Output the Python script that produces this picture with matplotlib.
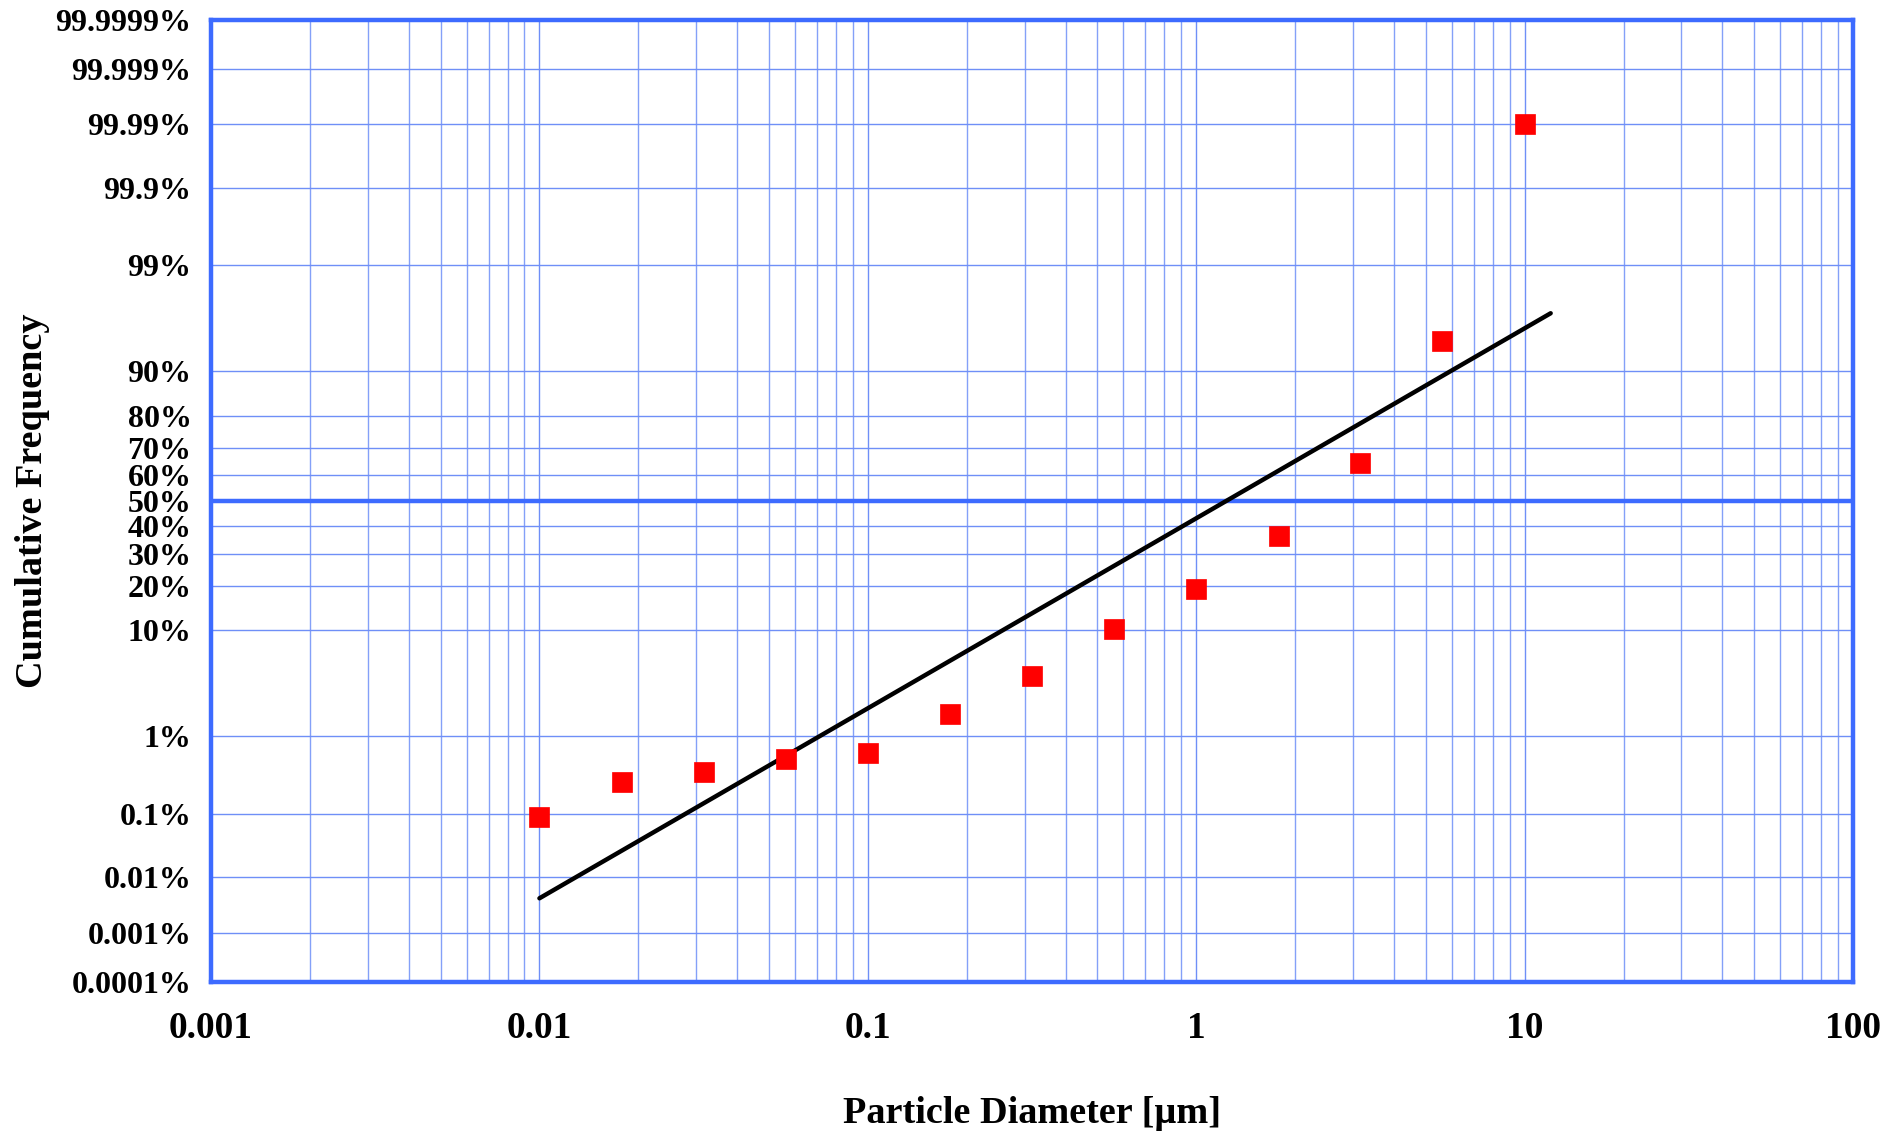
import numpy as np
import matplotlib
matplotlib.use("Agg")
import matplotlib.pyplot as plt
from matplotlib.ticker import LogLocator, NullLocator, NullFormatter
from statistics import NormalDist

# ---- data ----
diameter_um = [0.01, 0.0178, 0.0316, 0.0562, 0.1, 0.178, 0.316, 0.562, 1.0, 1.78, 3.16, 5.62, 10.0]
cum_freq_pct = [0.09, 0.27, 0.365, 0.54, 0.64, 1.75, 4.2, 10.2, 19.1, 36.4, 64.5, 94.3, 99.99]

fit_diameter_um = [0.01, 12.0]
fit_cum_pct = [0.0043, 96.8]

y_ticks_pct = [0.0001, 0.001, 0.01, 0.1, 1, 10, 20, 30, 40, 50, 60, 70, 80, 90,
               99, 99.9, 99.99, 99.999, 99.9999]
y_tick_labels = ["0.0001%", "0.001%", "0.01%", "0.1%", "1%", "10%", "20%", "30%",
                 "40%", "50%", "60%", "70%", "80%", "90%", "99%", "99.9%",
                 "99.99%", "99.999%", "99.9999%"]
x_ticks = [0.001, 0.01, 0.1, 1, 10, 100]
x_tick_labels = ["0.001", "0.01", "0.1", "1", "10", "100"]

# ---- normal probability scale ----
_nd = NormalDist()
_ppf = np.vectorize(lambda q: _nd.inv_cdf(q) if 0 < q < 1 else np.nan, otypes=[float])
_cdf = np.vectorize(lambda z: _nd.cdf(z), otypes=[float])


def prob_forward(p):
    q = np.clip(np.asarray(p, dtype=float) / 100.0, 1e-12, 1 - 1e-12)
    return _ppf(q)


def prob_inverse(z):
    return _cdf(np.asarray(z, dtype=float)) * 100.0


FRAME = "#3d6bff"
GRID = "#6f8ff7"

plt.rcParams["font.family"] = ["Liberation Serif", "DejaVu Serif"]
plt.rcParams["font.weight"] = "bold"

fig = plt.figure(figsize=(19.01, 11.36), dpi=100)
ax = fig.add_axes([0.111, 0.1356, 0.9748 - 0.111, 0.9828 - 0.1356])

ax.set_xscale("log")
ax.set_yscale("function", functions=(prob_forward, prob_inverse))
ax.set_xlim(0.001, 100)
ax.set_ylim(0.0001, 99.9999)

# grid
ax.xaxis.set_major_locator(LogLocator(base=10, numticks=20))
ax.xaxis.set_minor_locator(LogLocator(base=10, subs=np.arange(2, 10), numticks=100))
ax.xaxis.set_minor_formatter(NullFormatter())
ax.set_xticks(x_ticks, x_tick_labels)
ax.set_yticks(y_ticks_pct, y_tick_labels)
ax.yaxis.set_minor_locator(NullLocator())
ax.grid(True, which="major", axis="both", color=GRID, lw=1.0)
ax.grid(True, which="minor", axis="x", color=GRID, lw=1.0, alpha=0.85)
ax.set_axisbelow(True)

# 50% reference line
ax.axhline(50, color=FRAME, lw=3.2, zorder=1.5)

# fit line and data
ax.plot(fit_diameter_um, fit_cum_pct, color="black", lw=3.2, solid_capstyle="round", zorder=3)
ax.plot(diameter_um, cum_freq_pct, linestyle="none", marker="s", markersize=14.5,
        markerfacecolor="#ff0000", markeredgecolor="#ff0000", markeredgewidth=0.5, zorder=4)

# frame
for s in ax.spines.values():
    s.set_color(FRAME)
    s.set_linewidth(3.2)

ax.tick_params(axis="both", which="both", length=0)
ax.tick_params(axis="x", pad=21, labelsize=27)
ax.tick_params(axis="y", pad=14, labelsize=23)
for lab in ax.get_xticklabels() + ax.get_yticklabels():
    lab.set_fontweight("bold")

ax.set_xlabel("Particle Diameter [µm]", fontsize=27.5, fontweight="bold", labelpad=36)
ax.set_ylabel("Cumulative Frequency", fontsize=27.5, fontweight="bold", labelpad=4)

fig.savefig("out.png", dpi=100, facecolor="white")
